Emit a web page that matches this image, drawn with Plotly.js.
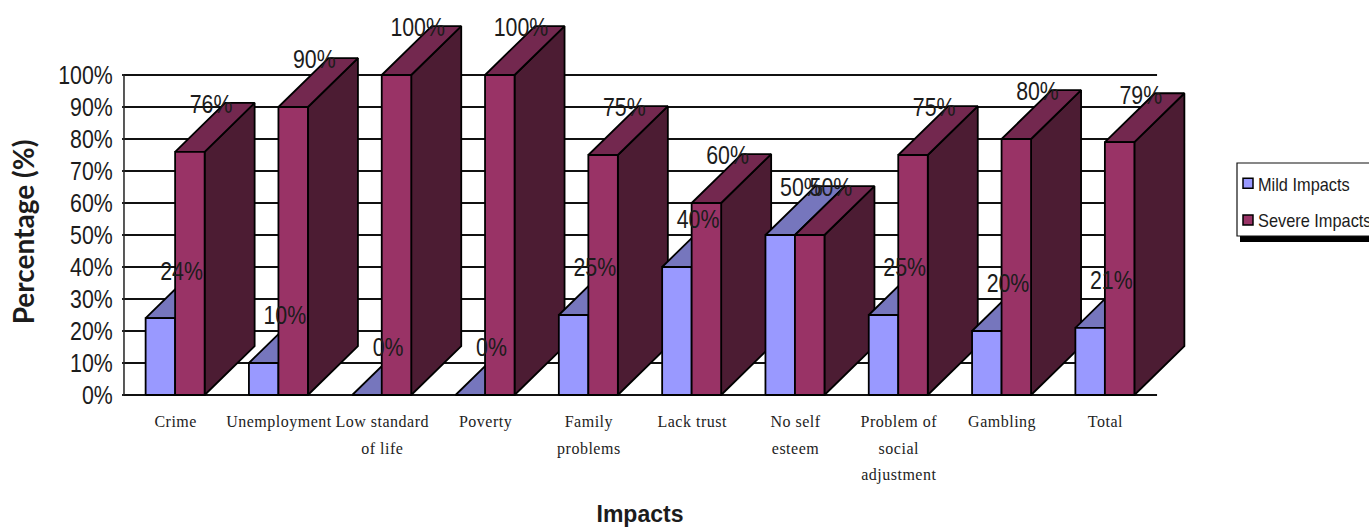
<!DOCTYPE html>
<html>
<head>
<meta charset="utf-8">
<script src="https://cdn.plot.ly/plotly-3.0.1.min.js"></script>
<style>html,body{margin:0;padding:0;background:#fff;overflow:hidden}</style>
</head>
<body>
<div id="chart" style="width:1369px;height:527px"></div>
<script>
// Survey results: share of respondents reporting mild or severe impacts
const categories = ['Crime', 'Unemployment', 'Low standard<br>of life', 'Poverty', 'Family<br>problems',
  'Lack trust', 'No self<br>esteem', 'Problem of<br>social<br>adjustment', 'Gambling', 'Total'];
const mildValues = [24, 10, 0, 0, 25, 40, 50, 25, 20, 21];
const severeValues = [76, 90, 100, 100, 75, 60, 50, 75, 80, 79];
const yTicks = [0, 10, 20, 30, 40, 50, 60, 70, 80, 90, 100];

// Extruded-column projection, in axis units
const barWidth = 0.2856;
const barShift = -0.005;
const depthX = 0.484;
const depthY = 15.3;
const labelShiftX = 0.205;
const labelShiftY = 14.1;

const mildColors = {front: '#9999FF', top: '#7676BD', side: '#4D4D80'};
const severeColors = {front: '#993366', top: '#73284F', side: '#4C1C33'};
const edge = {color: '#000', width: 1.8};

const ink = '#1c1c1c';
const sans = '"Liberation Sans", Arial, sans-serif';

function face(xs, ys, color) {
  return {x: xs, y: ys, type: 'scatter', mode: 'lines', fill: 'toself', fillcolor: color,
    line: edge, showlegend: false, hoverinfo: 'skip'};
}

// One column: side, top, then front, so nearer faces paint last
function column(left, value, colors) {
  const right = left + barWidth;
  return [
    face([right, right + depthX, right + depthX, right, right],
         [0, depthY, value + depthY, value, 0], colors.side),
    face([left, left + depthX, right + depthX, right, left],
         [value, value + depthY, value + depthY, value, value], colors.top),
    face([left, left, right, right, left], [0, value, value, 0, 0], colors.front)
  ];
}

const traces = [];

// Gridlines and the wall edge stop at the last category, short of the column depth
const gridX = [], gridY = [];
yTicks.forEach(v => { gridX.push(-0.5, categories.length - 0.5, null); gridY.push(v, v, null); });
traces.push({x: gridX, y: gridY, type: 'scatter', mode: 'lines', line: {color: '#111', width: 1.8},
  showlegend: false, hoverinfo: 'skip'});
traces.push({x: [-0.5, -0.5], y: [yTicks[0], yTicks[yTicks.length - 1]], type: 'scatter', mode: 'lines',
  line: {color: '#222', width: 1.5}, showlegend: false, hoverinfo: 'skip'});

categories.forEach((_, i) => {
  traces.push(...column(i + barShift - barWidth, mildValues[i], mildColors));
  traces.push(...column(i + barShift, severeValues[i], severeColors));
});

function valueLabels(values, offset) {
  return {
    x: values.map((_, i) => i + barShift + offset + labelShiftX),
    y: values.map(v => v + labelShiftY),
    text: values.map(v => v + '%'),
    type: 'scatter', mode: 'text', textposition: 'middle center', cliponaxis: false,
    textfont: {family: sans, size: 26, color: ink},
    showlegend: false, hoverinfo: 'skip'
  };
}
traces.push(valueLabels(mildValues, -barWidth / 2));
traces.push(valueLabels(severeValues, barWidth / 2));

// Legend keys
function legendKey(name, color) {
  return {x: [null], y: [null], name: name, legendgroup: name, type: 'scatter', mode: 'markers',
    marker: {symbol: 'square', size: 10, color: color, line: {color: '#000', width: 1.5}}, hoverinfo: 'skip'};
}
traces.push(legendKey('Mild Impacts', mildColors.front));
traces.push(legendKey('Severe Impacts', severeColors.front));

// Plot frame in pixels: the category band spans 124..1157, the 0-100 scale 395..75
const frame = {left: 90, right: 1190, top: 20, bottom: 444};
const pxX = px => (px - frame.left) / (frame.right - frame.left);
const pxY = px => (frame.bottom - px) / (frame.bottom - frame.top);

const layout = {
  width: 1369, height: 527,
  margin: {l: frame.left, r: 1369 - frame.right, t: frame.top, b: 527 - frame.bottom, autoexpand: false},
  paper_bgcolor: '#fff', plot_bgcolor: 'rgba(0,0,0,0)',
  xaxis: {
    range: [-0.829, 9.819], anchor: 'free', position: pxY(395), zeroline: false, showgrid: false, showline: false,
    tickmode: 'array', tickvals: categories.map((_, i) => i), ticktext: categories,
    tickangle: 0, ticks: '', ticklabelstandoff: 15,
    tickfont: {family: '"Liberation Serif", "Times New Roman", serif', size: 16, color: '#222'},
    title: {text: 'Impacts', standoff: 39, font: {family: sans, size: 23, color: ink, weight: 'bold'}}
  },
  yaxis: {
    range: [-15.31, 117.19], anchor: 'free', position: pxX(124), zeroline: false, showgrid: false, showline: false,
    tickmode: 'array', tickvals: yTicks, ticktext: yTicks.map(v => v + '%'),
    ticks: 'outside', ticklen: 2, tickwidth: 1.5, tickcolor: '#222', ticklabelstandoff: 4,
    tickfont: {family: sans, size: 26, color: ink},
    title: {text: 'Percentage (%)', standoff: 2, font: {family: 'Lato, "Open Sans", sans-serif', size: 28, color: ink, weight: 'bold'}}
  },
  legend: {
    x: pxX(1228), xanchor: 'left', y: pxY(164.5), yanchor: 'top', bgcolor: 'rgba(0,0,0,0)', borderwidth: 0,
    tracegroupgap: 9, font: {family: sans, size: 19, color: ink}
  },
  shapes: [
    {type: 'rect', xref: 'paper', yref: 'paper', x0: pxX(1240), x1: pxX(1380), y0: pxY(242), y1: pxY(170),
      fillcolor: '#000', line: {width: 0}},
    {type: 'rect', xref: 'paper', yref: 'paper', x0: pxX(1237), x1: pxX(1380), y0: pxY(236), y1: pxY(163),
      fillcolor: '#fff', line: {color: '#111', width: 1.2}}
  ]
};

// The chart's sans text is set narrower than the installed face
function condense(text, ratio) {
  text.setAttribute('textLength', text.getComputedTextLength() * ratio);
  text.setAttribute('lengthAdjust', 'spacingAndGlyphs');
}

Plotly.newPlot('chart', traces, layout, {displayModeBar: false, staticPlot: true}).then(gd => {
  // Wider leading and tracking on the category labels
  gd.querySelectorAll('.xtick text').forEach(t => {
    t.style.letterSpacing = '0.5px';
    t.querySelectorAll('tspan.line').forEach((line, n) => line.setAttribute('dy', (n * 1.67) + 'em'));
  });
  gd.querySelectorAll('.ytick text, .textpoint text').forEach(t => condense(t, 0.82));
  gd.querySelectorAll('.legendtext').forEach(t => {
    t.setAttribute('x', 30);
    condense(t, 0.86);
  });
});
</script>
</body>
</html>
